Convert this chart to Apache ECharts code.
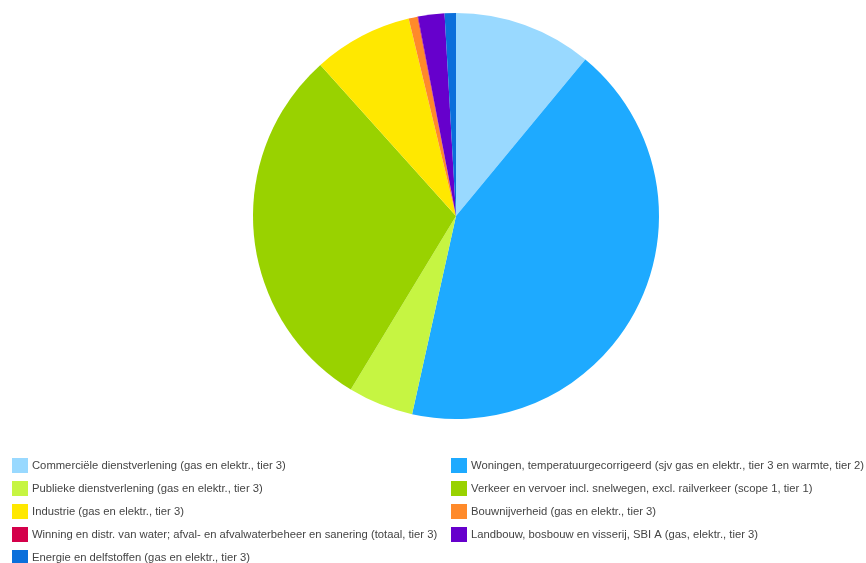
<!DOCTYPE html>
<html><head><meta charset="utf-8">
<script src="https://cdn.jsdelivr.net/npm/echarts@6/dist/echarts.min.js"></script>
<style>html,body{margin:0;padding:0;background:#fff}#c{width:866px;height:563px}</style>
</head><body><div id="c"></div>
<script>
const categories = [
  "Commerciële dienstverlening (gas en elektr., tier 3)",
  "Woningen, temperatuurgecorrigeerd (sjv gas en elektr., tier 3 en warmte, tier 2)",
  "Publieke dienstverlening (gas en elektr., tier 3)",
  "Verkeer en vervoer incl. snelwegen, excl. railverkeer (scope 1, tier 1)",
  "Industrie (gas en elektr., tier 3)",
  "Bouwnijverheid (gas en elektr., tier 3)",
  "Winning en distr. van water; afval- en afvalwaterbeheer en sanering (totaal, tier 3)",
  "Landbouw, bosbouw en visserij, SBI A (gas, elektr., tier 3)",
  "Energie en delfstoffen (gas en elektr., tier 3)"
];
const values = [11.0, 42.5, 5.2, 29.7, 7.9, 0.7, 0.05, 2.1, 0.9];
const colors = ["#99d9ff", "#1eaaff", "#c6f542", "#99d200", "#ffe800", "#ff8a2a", "#d4004a", "#6600cc", "#0a6fdb"];

const leftLegend = [0, 2, 4, 6, 8].map(i => categories[i]);
const rightLegend = [1, 3, 5, 7].map(i => categories[i]);

const legendBase = {
  orient: 'vertical', icon: 'rect', itemWidth: 16, itemHeight: 15, itemGap: 8,
  padding: 0, height: 200, selectedMode: false,
  textStyle: { fontFamily: 'Liberation Sans, Arial, sans-serif', fontSize: 11.25, color: '#444', padding: [0, 0, 0, -1] }
};

const chart = echarts.init(document.getElementById('c'), null, { renderer: 'canvas' });
chart.setOption({
  animation: false,
  color: colors,
  legend: [
    Object.assign({}, legendBase, { left: 12, top: 458, data: leftLegend }),
    Object.assign({}, legendBase, { left: 451, top: 458, data: rightLegend })
  ],
  series: [{
    type: 'pie',
    center: [456, 216],
    radius: 203,
    startAngle: 90,
    clockwise: true,
    label: { show: false },
    labelLine: { show: false },
    itemStyle: { borderWidth: 0 },
    emphasis: { disabled: true },
    data: categories.map((n, i) => ({ name: n, value: values[i] }))
  }]
});
</script></body></html>
